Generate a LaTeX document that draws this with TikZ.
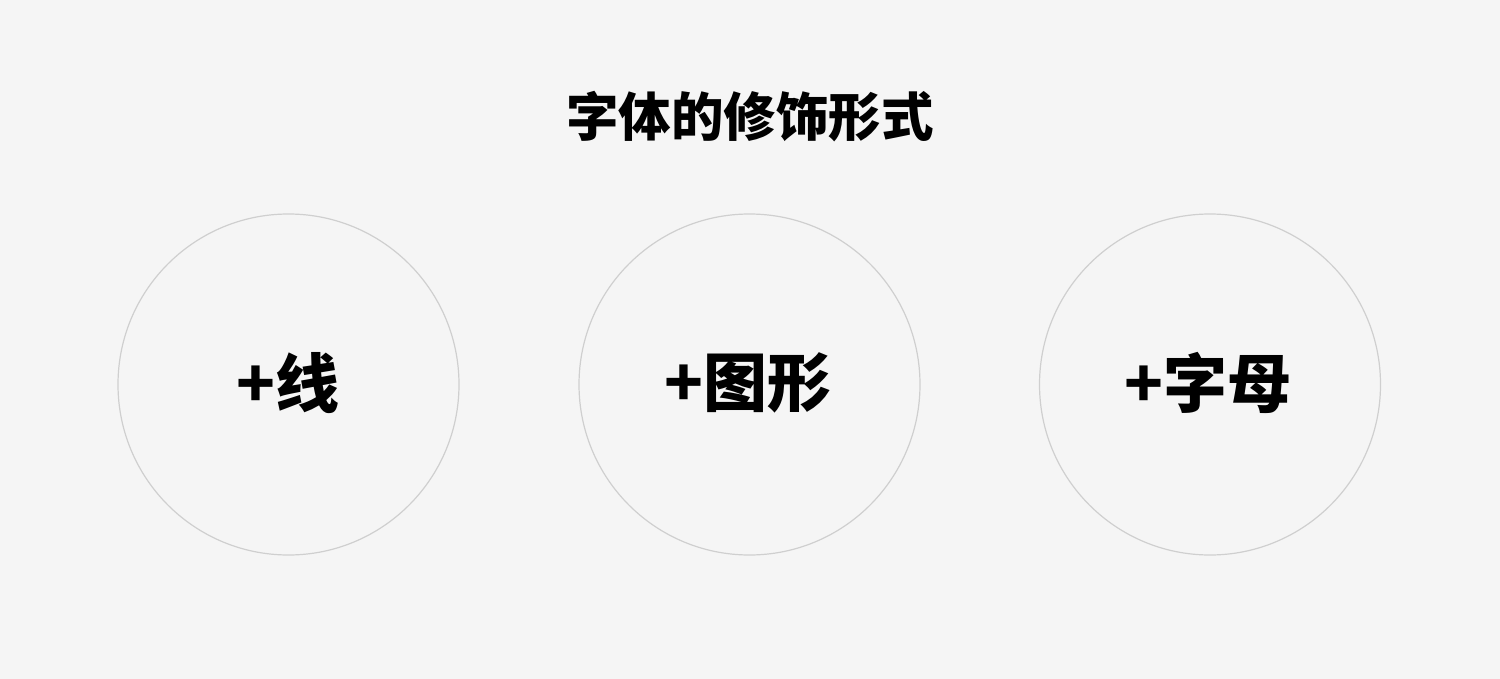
\documentclass[tikz,border=0pt]{standalone}
\usepackage{fontspec}
\newfontfamily\cjk{Noto Sans CJK SC Black}
\definecolor{bgc}{HTML}{F5F5F5}
\definecolor{ringc}{HTML}{CFCFCF}
\begin{document}
\begin{tikzpicture}[x=1bp,y=-1bp,
  ring/.style={circle,draw=ringc,line width=1.2bp,minimum size=341bp,inner sep=0pt},
  lbl/.style={font=\cjk\fontsize{64bp}{64bp}\selectfont,text=black,inner sep=0pt},
  ttl/.style={font=\cjk\fontsize{52.5bp}{52.5bp}\selectfont,text=black,inner sep=0pt}]
\fill[bgc] (0,0) rectangle (1500,679);
\useasboundingbox (0,0) rectangle (1500,679);
\node[ttl] (title) at (750,117) {字体的修饰形式};
\node[ring] (c1) at (288.5,384.5) {};
\node[ring] (c2) at (749.5,384.5) {};
\node[ring] (c3) at (1210,384.5) {};
\node[lbl] (l1) at (288,383) {+线};
\node[lbl] (l2) at (748,383) {+图形};
\node[lbl] (l3) at (1208,383) {+字母};
\end{tikzpicture}
\end{document}
